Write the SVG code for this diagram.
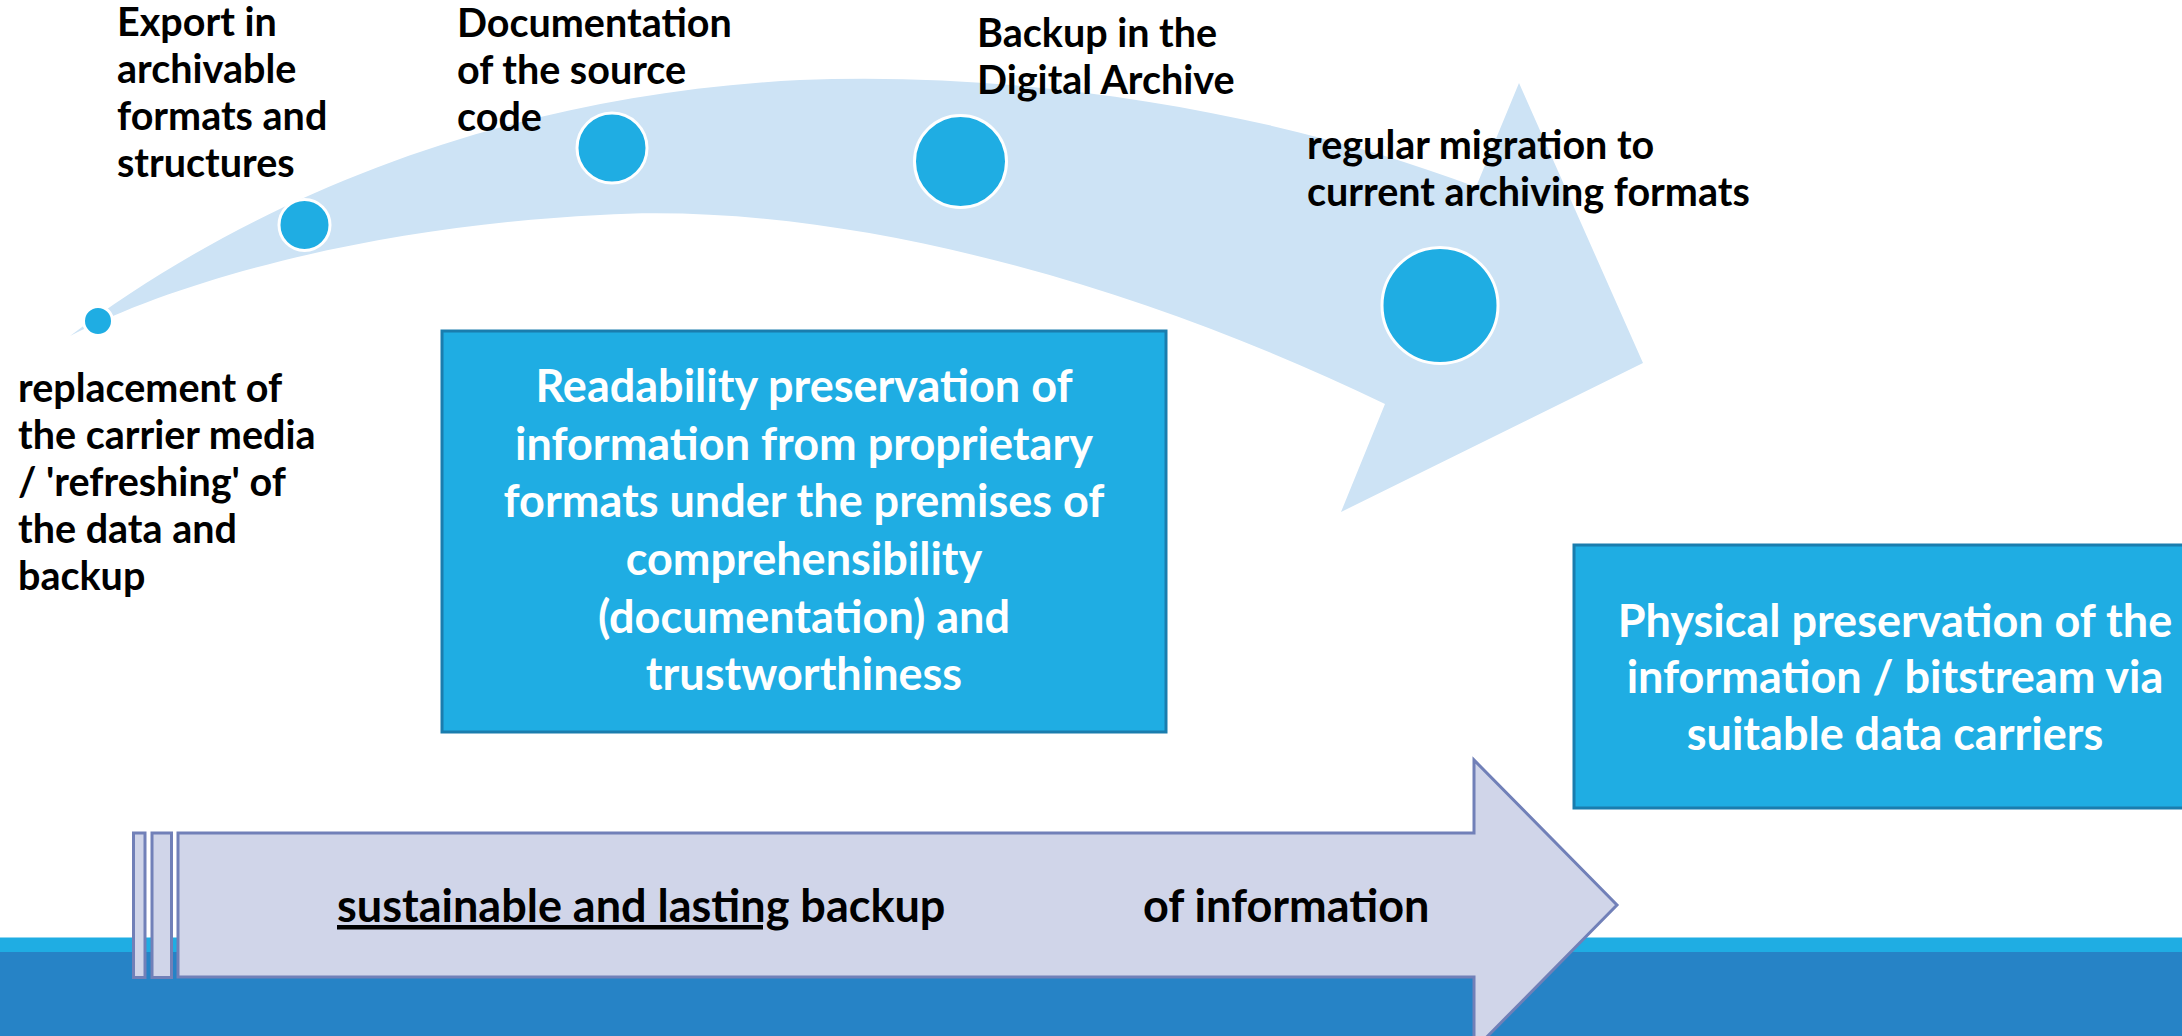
<svg xmlns="http://www.w3.org/2000/svg" width="2182" height="1036" viewBox="0 0 2182 1036">
<style>
.lbl{font-family:Lato,"Open Sans","Liberation Sans",sans-serif;font-weight:700;font-size:39.5px;fill:#000}
.box{fill:#1FADE3;stroke:#1A7DAE;stroke-width:3}
.btxt{font-family:Lato,"Open Sans","Liberation Sans",sans-serif;font-weight:700;font-size:45px;fill:#fff;text-anchor:middle}
.dot{fill:#1FADE3;stroke:#fff;stroke-width:3}
.bar{fill:#D0D5E9;stroke:#7180B8;stroke-width:3}
.atxt{font-family:Lato,"Open Sans","Liberation Sans",sans-serif;font-weight:700;font-size:45px;fill:#000}
</style>
<rect width="2182" height="1036" fill="#fff"/>
<g id="band">
<rect x="0" y="937.5" width="2182" height="15" fill="#1FADE3"/>
<rect x="0" y="952" width="2182" height="84" fill="#2683C6"/>
</g>
<g id="connectors">
<path id="curved-arrow" d="M70,336 C250,200 500,95 800,80 C1050,70 1300,120 1476,187 L1519,83 L1643,363 L1341,512 L1385,404 C1150,290 850,200 600,215 C400,225 200,270 70,336 Z" fill="#CDE3F5"/>
<g id="bottom-arrow">
<rect class="bar" x="133.5" y="833" width="11.5" height="144.5"/>
<rect class="bar" x="152" y="833" width="19.5" height="144.5"/>
<path class="bar" d="M178,833 L1474,833 L1474,760 L1617,905 L1474,1050 L1474,977 L178,977 Z"/>
<text class="atxt" x="337" y="922"><tspan text-decoration="underline">sustainable and lasting</tspan> backup</text>
<text class="atxt" x="1143" y="922">of information</text>
</g>
</g>
<g id="step1">
<circle class="dot" cx="98" cy="321" r="14.5"/>
<text class="lbl" x="18" y="402">replacement of<tspan x="18" y="449">the carrier media</tspan><tspan x="18" y="496">/ 'refreshing' of</tspan><tspan x="18" y="543">the data and</tspan><tspan x="18" y="590">backup</tspan></text>
</g>
<g id="step2">
<circle class="dot" cx="304.5" cy="225" r="25.5"/>
<text class="lbl" x="117" y="36">Export in<tspan x="117" y="83">archivable</tspan><tspan x="117" y="130">formats and</tspan><tspan x="117" y="177">structures</tspan></text>
</g>
<g id="step3">
<circle class="dot" cx="612" cy="148" r="35"/>
<text class="lbl" x="457" y="37">Documentation<tspan x="457" y="84">of the source</tspan><tspan x="457" y="131">code</tspan></text>
</g>
<g id="step4">
<circle class="dot" cx="960.5" cy="161.5" r="46"/>
<text class="lbl" x="977" y="47">Backup in the<tspan x="977" y="94">Digital Archive</tspan></text>
</g>
<g id="step5">
<circle class="dot" cx="1440" cy="305.5" r="58"/>
<text class="lbl" x="1307" y="159">regular migration to<tspan x="1307" y="206">current archiving formats</tspan></text>
</g>
<g id="readability-box">
<rect class="box" x="442" y="331" width="724" height="401"/>
<text class="btxt" x="804" y="402">Readability preservation of<tspan x="804" y="460">information from proprietary</tspan><tspan x="804" y="517">formats under the premises of</tspan><tspan x="804" y="575">comprehensibility</tspan><tspan x="804" y="633">(documentation) and</tspan><tspan x="804" y="690">trustworthiness</tspan></text>
</g>
<g id="physical-box">
<rect class="box" x="1574" y="545" width="660" height="263"/>
<text class="btxt" x="1895" y="637">Physical preservation of the<tspan x="1895" y="693">information / bitstream via</tspan><tspan x="1895" y="750">suitable data carriers</tspan></text>
</g>
</svg>
